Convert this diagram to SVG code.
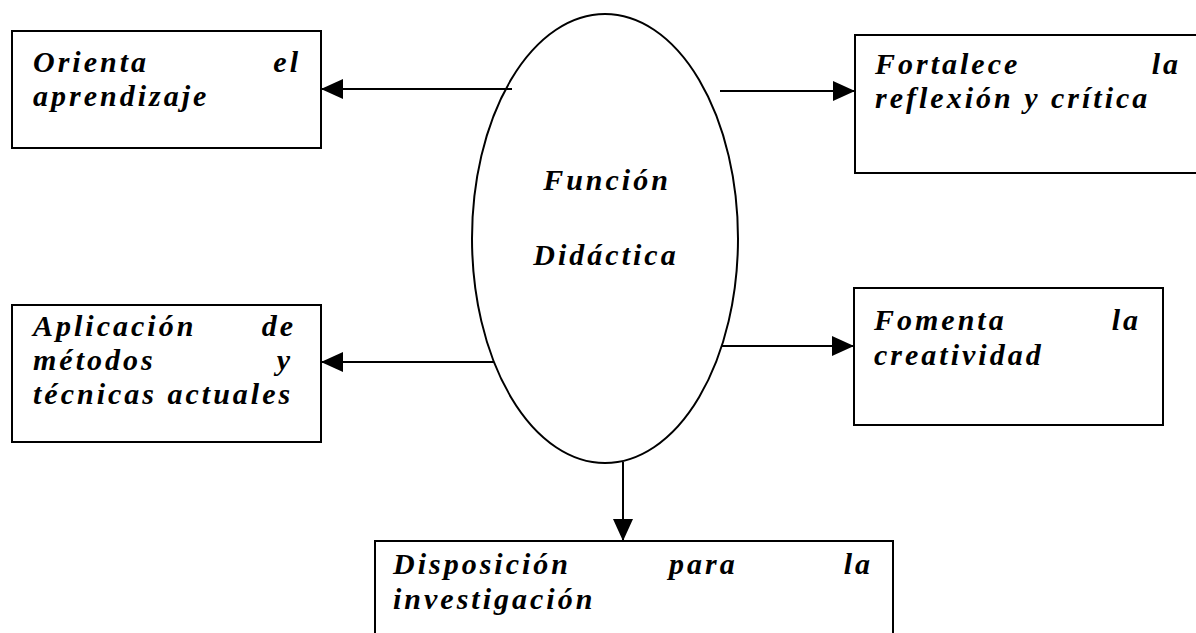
<svg xmlns="http://www.w3.org/2000/svg" width="1196" height="633" viewBox="0 0 1196 633">
<defs>
<style>
.box{fill:#fff;stroke:#000;stroke-width:2}
.t{font-family:"Liberation Serif","Times New Roman",serif;font-weight:bold;font-style:italic;font-size:30px;letter-spacing:3px;fill:#000}
.e{text-anchor:end}
.m{text-anchor:middle}
.c{fill:none;stroke:#000;stroke-width:2}
</style>
<marker id="ah" viewBox="0 0 22 20" refX="22" refY="10" markerWidth="22" markerHeight="20" markerUnits="userSpaceOnUse" orient="auto">
<path d="M0,0 L22,10 L0,20 z" fill="#000"/>
</marker>
</defs>
<rect width="1196" height="633" fill="#fff"/>
<g id="center">
<ellipse cx="605" cy="238.5" rx="133" ry="224.5" class="box"/>
<text class="t m" x="607" y="190">Función</text>
<text class="t m" x="606" y="265">Didáctica</text>
</g>
<g id="orienta">
<rect x="12" y="31" width="309" height="117" class="box"/>
<text class="t" x="33" y="72">Orienta</text>
<text class="t e" x="301" y="72">el</text>
<text class="t" x="33" y="106">aprendizaje</text>
</g>
<g id="fortalece">
<rect x="855" y="35" width="345" height="138" class="box"/>
<text class="t" x="875" y="74">Fortalece</text>
<text class="t e" x="1181" y="74">la</text>
<text class="t" x="875" y="108">reflexión y crítica</text>
</g>
<g id="aplicacion">
<rect x="12" y="305" width="309" height="137" class="box"/>
<text class="t" x="33" y="336">Aplicación</text>
<text class="t e" x="296" y="336">de</text>
<text class="t" x="33" y="370">métodos</text>
<text class="t e" x="293" y="370">y</text>
<text class="t" x="33" y="404">técnicas actuales</text>
</g>
<g id="fomenta">
<rect x="854" y="288" width="309" height="137" class="box"/>
<text class="t" x="874" y="330">Fomenta</text>
<text class="t e" x="1141" y="330">la</text>
<text class="t" x="874" y="365">creatividad</text>
</g>
<g id="disposicion">
<path d="M375,645 V541 H893 V645" class="box"/>
<text class="t" x="393" y="574">Disposición</text>
<text class="t" x="669" y="574">para</text>
<text class="t e" x="873" y="574">la</text>
<text class="t" x="393" y="609">investigación</text>
</g>
<g id="connectors">
<line x1="512" y1="89" x2="321" y2="89" class="c" marker-end="url(#ah)"/>
<line x1="720" y1="91" x2="855" y2="91" class="c" marker-end="url(#ah)"/>
<line x1="494" y1="362" x2="321" y2="362" class="c" marker-end="url(#ah)"/>
<line x1="722" y1="346" x2="854" y2="346" class="c" marker-end="url(#ah)"/>
<line x1="623" y1="462" x2="623" y2="541" class="c" marker-end="url(#ah)"/>
</g>
</svg>
